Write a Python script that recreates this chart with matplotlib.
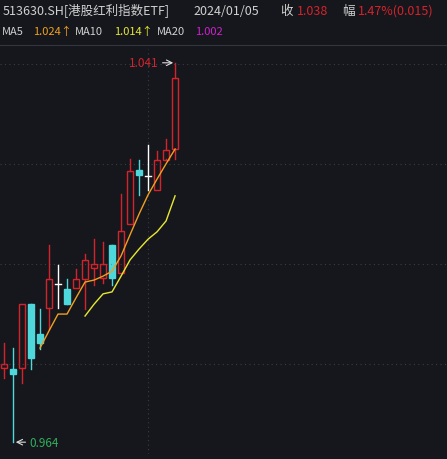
import numpy as np
import matplotlib.pyplot as plt
from matplotlib.patches import Rectangle

plt.rcParams['font.family'] = ['Noto Sans CJK SC', 'DejaVu Sans']

# ---- daily bars (open, high, low, close) ----
opens = [0.9790, 0.9788, 0.9790, 0.9920, 0.9859, 0.9912, 0.9961, 0.9951, 0.9953, 0.9971,
         0.9993, 0.9973, 1.0040, 0.9983, 1.0083, 1.0193, 1.0180, 1.0152, 1.0213, 1.0235]
highs = [0.9841, 0.9831, 0.9920, 0.9920, 0.9910, 1.0040, 0.9999, 0.9971, 0.9991, 1.0022,
         1.0052, 1.0046, 1.0040, 1.0144, 1.0215, 1.0213, 1.0243, 1.0231, 1.0256, 1.0410]
lows = [0.9770, 0.9640, 0.9760, 0.9788, 0.9829, 0.9870, 0.9912, 0.9920, 0.9953, 0.9910,
        0.9958, 0.9963, 0.9960, 0.9983, 1.0083, 1.0142, 1.0152, 1.0152, 1.0215, 1.0215]
closes = [0.9799, 0.9778, 0.9920, 0.9810, 0.9841, 0.9971, 0.9961, 0.9920, 0.9971, 1.0010,
          1.0001, 1.0001, 0.9973, 1.0069, 1.0191, 1.0183, 1.0180, 1.0213, 1.0233, 1.0380]
ma5 = [np.nan] * 4 + [0.9831, 0.9866, 0.9900, 0.9900, 0.9933, 0.9965, 0.9969, 0.9977,
                      0.9987, 1.0018, 1.0061, 1.0103, 1.0142, 1.0174, 1.0205, 1.0235]
ma10 = [np.nan] * 9 + [0.9896, 0.9920, 0.9941, 0.9945, 0.9977, 1.0010, 1.0032, 1.0052,
                       1.0067, 1.0089, 1.0140]

bg = '#15171c'
red = '#d4232c'
cyan = '#4fd8dc'

fig = plt.figure(figsize=(4.47, 4.6), dpi=100, facecolor=bg)
ax = fig.add_axes([0, 5 / 460, 1, 405 / 460], facecolor=bg)
ax.set_xlim(-0.444, 49.2)
ax.set_ylim(0.9616, 1.0438)
ax.axis('off')

for y in [0.9798, 1.0002, 1.0205, 1.0408]:
    ax.axhline(y, color='#3a3d44', lw=0.8, ls=(0, (1, 3)))
ax.axvline(16, color='#3a3d44', lw=0.8, ls=(0, (1, 3)))

w = 0.62
for i in range(len(opens)):
    o, h, l, c = opens[i], highs[i], lows[i], closes[i]
    if abs(c - o) < 0.0002:
        col = 'white'
        ax.plot([i, i], [l, h], color=col, lw=1)
        ax.plot([i - w / 2, i + w / 2], [c, c], color=col, lw=1)
    elif c > o:
        ax.plot([i, i], [c, h], color=red, lw=1)
        ax.plot([i, i], [l, o], color=red, lw=1)
        ax.add_patch(Rectangle((i - w / 2, o), w, c - o, fill=False, ec=red, lw=1))
    else:
        ax.plot([i, i], [l, h], color=cyan, lw=1)
        ax.add_patch(Rectangle((i - w / 2, c), w, o - c, fc=cyan, ec=cyan, lw=1))

x = np.arange(len(opens))
ax.plot(x, ma5, color='#f0a020', lw=1)
ax.plot(x, ma10, color='#e8e830', lw=1)

ax.annotate('', xy=(19.1, 1.041), xytext=(17.3, 1.041),
            arrowprops=dict(arrowstyle='->', color='#dddddd', lw=0.8))
ax.text(17.2, 1.041, '1.041', color=red, fontsize=8.5, ha='right', va='center')
ax.annotate('', xy=(1.0, 0.964), xytext=(2.7, 0.964),
            arrowprops=dict(arrowstyle='->', color='#dddddd', lw=0.8))
ax.text(2.8, 0.964, '0.964', color='#2fb05a', fontsize=8.5, ha='left', va='center')

# header
fs = 9
fig.text(0.005, 0.975, '513630.SH[港股红利指数ETF]', color='#d0d0d0', fontsize=fs, va='center')
fig.text(0.432, 0.975, '2024/01/05', color='#d0d0d0', fontsize=fs, va='center')
fig.text(0.628, 0.975, '收', color='#d0d0d0', fontsize=fs, va='center')
fig.text(0.665, 0.975, '1.038', color=red, fontsize=fs, va='center')
fig.text(0.765, 0.975, '幅', color='#d0d0d0', fontsize=fs, va='center')
fig.text(0.8, 0.975, '1.47%(0.015)', color=red, fontsize=fs, va='center')
fig.text(0.005, 0.93, 'MA5', color='#d0d0d0', fontsize=8, va='center')
fig.text(0.075, 0.93, '1.024↑', color='#f0a020', fontsize=8, va='center')
fig.text(0.168, 0.93, 'MA10', color='#d0d0d0', fontsize=8, va='center')
fig.text(0.255, 0.93, '1.014↑', color='#e8e830', fontsize=8, va='center')
fig.text(0.35, 0.93, 'MA20', color='#d0d0d0', fontsize=8, va='center')
fig.text(0.437, 0.93, '1.002', color='#d020d0', fontsize=8, va='center')
fig.add_artist(plt.Line2D([0, 1], [0.9, 0.9], color='#33363d', lw=0.8))

fig.savefig('out.png', facecolor=bg)
